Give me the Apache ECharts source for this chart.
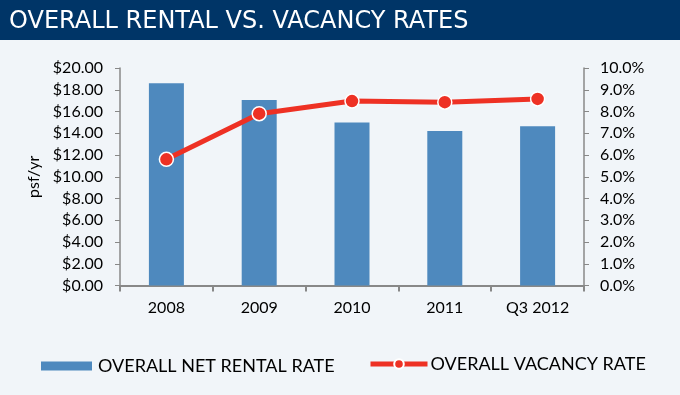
<!DOCTYPE html>
<html><head><meta charset="utf-8">
<script src="https://cdn.jsdelivr.net/npm/echarts@6/dist/echarts.min.js"></script>
<style>html,body{margin:0;padding:0;background:#F1F5F9;}#c{width:680px;height:395px;}</style>
</head><body><div id="c"></div>
<script>
const categories = ['2008', '2009', '2010', '2011', 'Q3 2012'];
const rentalRates = [18.6, 17.05, 15.0, 14.2, 14.65];
const vacancyRates = [5.8, 7.9, 8.48, 8.43, 8.58];
const titleText = 'OVERALL RENTAL VS. VACANCY RATES';
const seriesNames = ['OVERALL NET RENTAL RATE', 'OVERALL VACANCY RATE'];
const leftAxisName = 'psf/yr';

const font = 'Lato';
const chart = echarts.init(document.getElementById('c'));
chart.setOption({
  backgroundColor: '#F1F5F9',
  animation: false,
  graphic: [{type: 'rect', left: 0, top: 0, shape: {width: 680, height: 40}, style: {fill: '#003567'}, z: 0}],
  title: {text: titleText, left: 4, top: 5, textStyle: {color: '#fff', fontFamily: 'DejaVu Sans', fontWeight: 'normal', fontSize: 24}},
  grid: {left: 120, right: 96, top: 68, bottom: 109.5},
  legend: [{
    left: 36, top: 352, itemWidth: 51, itemHeight: 9,
    textStyle: {fontFamily: font, fontSize: 18, color: '#000', padding: [0, 0, 0, 1]},
    data: [{name: seriesNames[0], icon: 'rect'}]
  }, {
    left: 363, top: 350, itemWidth: 57, itemHeight: 12,
    textStyle: {fontFamily: font, fontSize: 18, color: '#000', padding: [0, 0, 0, -2]},
    data: [{name: seriesNames[1], lineStyle: {width: 5}}]
  }],
  xAxis: {
    type: 'category', data: categories,
    axisLine: {lineStyle: {color: '#888', width: 2}},
    axisTick: {show: true, alignWithLabel: false, length: 6, lineStyle: {color: '#888', width: 2}},
    axisLabel: {fontFamily: font, fontSize: 16, color: '#000', margin: 14}
  },
  yAxis: [{
    type: 'value', min: 0, max: 20, interval: 2,
    name: leftAxisName, nameLocation: 'middle', nameGap: 66, nameRotate: 90,
    nameTextStyle: {fontFamily: font, fontSize: 16, color: '#000'},
    axisLine: {show: true, lineStyle: {color: '#888', width: 1.5}},
    axisTick: {show: true, length: 5, lineStyle: {color: '#888'}},
    splitLine: {show: false},
    axisLabel: {fontFamily: font, fontSize: 16, color: '#000', margin: 17, formatter: v => '$' + v.toFixed(2)}
  }, {
    type: 'value', min: 0, max: 10, interval: 1, position: 'right',
    axisLine: {show: true, lineStyle: {color: '#888', width: 1.5}},
    axisTick: {show: true, length: 5, lineStyle: {color: '#888'}},
    splitLine: {show: false},
    axisLabel: {fontFamily: font, fontSize: 16, color: '#000', margin: 16, formatter: v => v.toFixed(1) + '%'}
  }],
  series: [{
    name: seriesNames[0], type: 'bar', data: rentalRates, barWidth: 35,
    itemStyle: {color: '#4E89BE'}
  }, {
    name: seriesNames[1], type: 'line', yAxisIndex: 1, data: vacancyRates,
    symbol: 'circle', symbolSize: 14,
    lineStyle: {color: '#EE3124', width: 5},
    itemStyle: {color: '#EE3124', borderColor: '#fff', borderWidth: 1.5}
  }]
});
</script></body></html>
